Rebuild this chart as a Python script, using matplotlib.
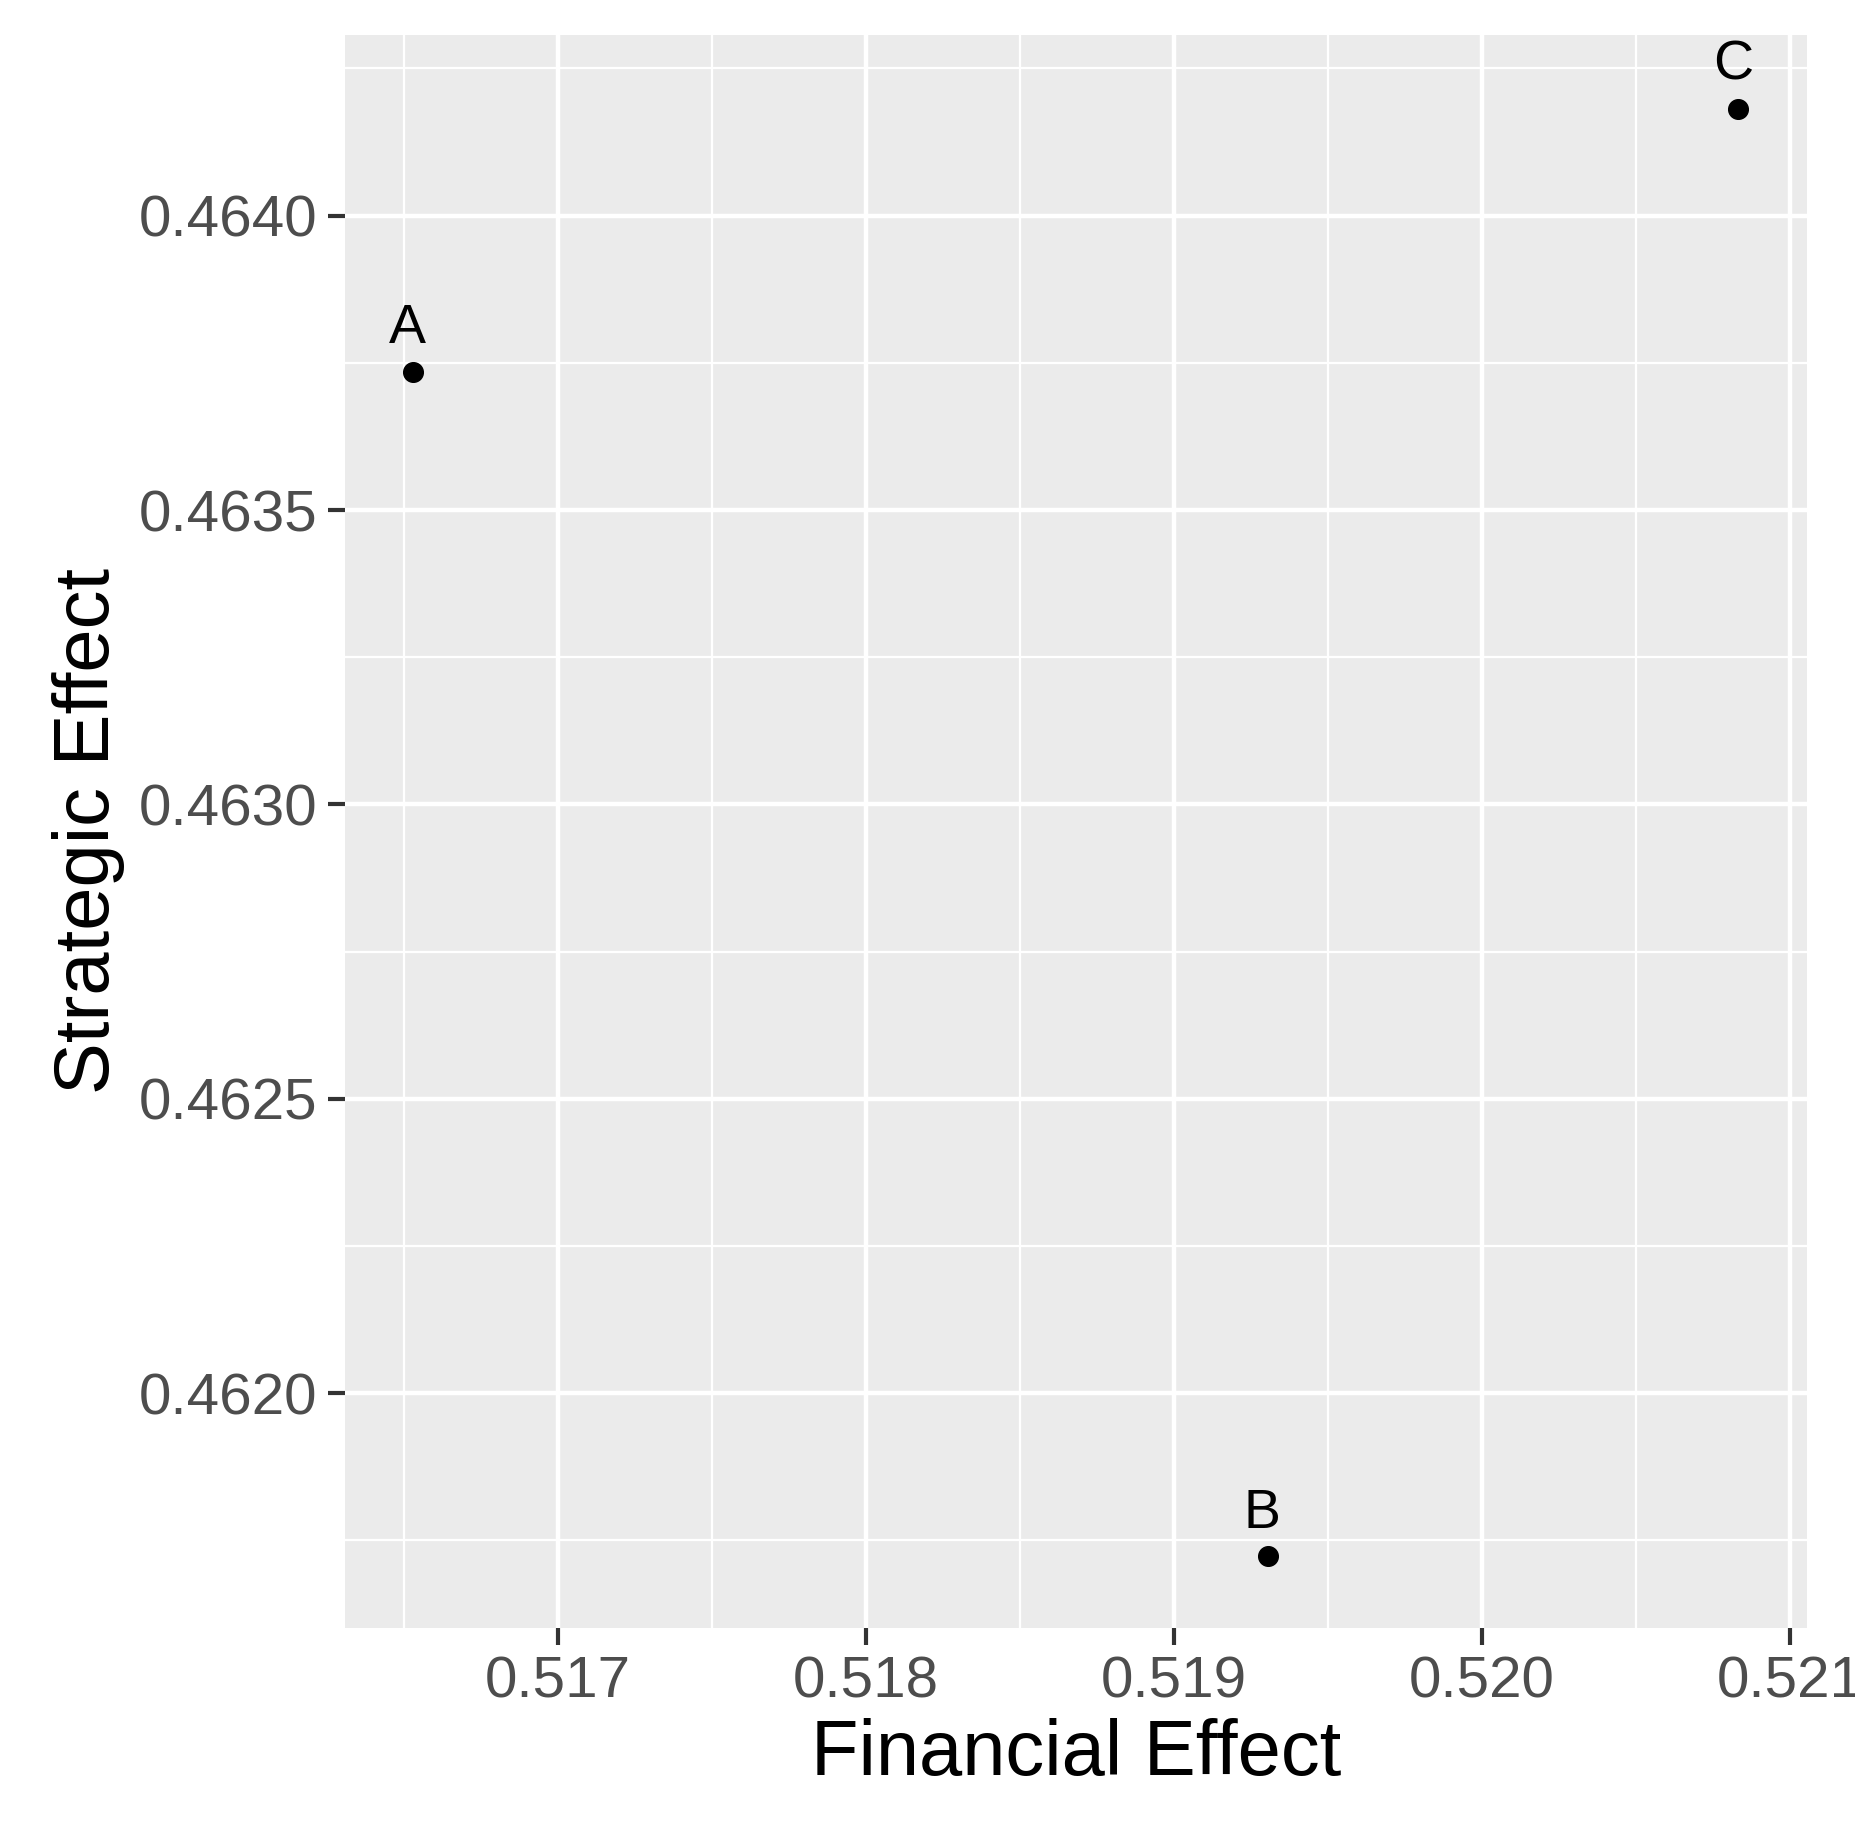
import matplotlib
matplotlib.use("Agg")
import matplotlib.pyplot as plt

labels = ["A", "B", "C"]
financial = [0.51653, 0.519304, 0.520832]
strategic = [0.463735, 0.461723, 0.464182]
xticks = [0.517, 0.518, 0.519, 0.520, 0.521]
yticks = [0.4620, 0.4625, 0.4630, 0.4635, 0.4640]
xminor = [0.5165, 0.5175, 0.5185, 0.5195, 0.5205]
yminor = [0.46175, 0.46225, 0.46275, 0.46325, 0.46375, 0.46425]

plt.rcParams['font.family'] = ['Liberation Sans', 'DejaVu Sans']
fig = plt.figure(figsize=(18.55, 18.39), dpi=100)
ax = fig.add_axes([0.186, 0.115, 0.788, 0.866])
ax.set_facecolor('#EBEBEB')
for s in ax.spines.values():
    s.set_visible(False)

ax.set_xticks(xticks)
ax.set_xticklabels(["%.3f" % v for v in xticks])
ax.set_yticks(yticks)
ax.set_yticklabels(["%.4f" % v for v in yticks])
ax.set_xticks(xminor, minor=True)
ax.set_yticks(yminor, minor=True)
ax.set_xlim(0.51631, 0.521054)
ax.set_ylim(0.461602, 0.464307)
ax.grid(True, which='major', color='white', linewidth=3.2)
ax.grid(True, which='minor', color='white', linewidth=1.6)
ax.set_axisbelow(True)
ax.tick_params(which='major', length=12, width=3, color='#333333',
               labelsize=42, labelcolor='#4D4D4D', pad=8)
ax.tick_params(which='minor', length=0)

ax.scatter(financial, strategic, s=200, color='black', zorder=3)
for x, y, t in zip(financial, strategic, labels):
    ax.annotate(t, (x, y), xytext=(-4, 12), textcoords='offset points',
                ha='center', va='bottom', fontsize=40, color='black')

ax.set_xlabel("Financial Effect", fontsize=56, color='black', labelpad=6)
ax.set_ylabel("Strategic Effect", fontsize=56, color='black', labelpad=10)
fig.savefig("out.png", dpi=100)
